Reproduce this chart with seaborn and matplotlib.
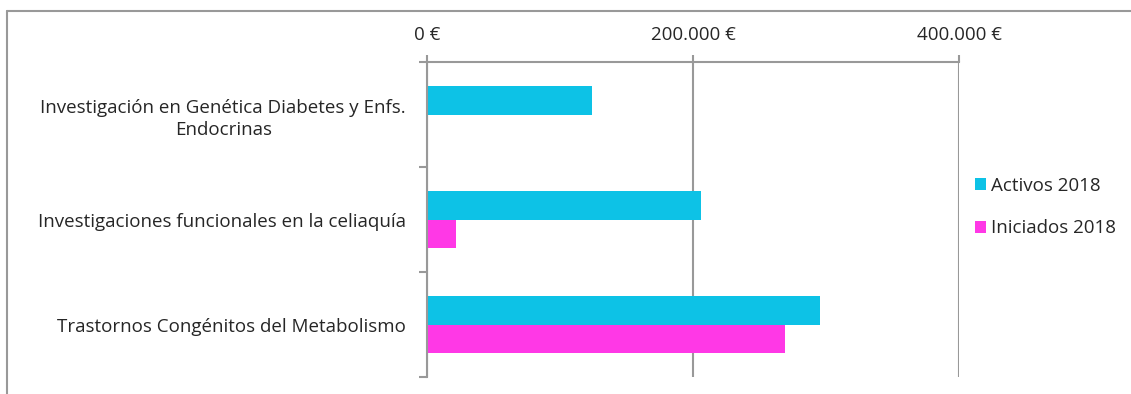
import pandas as pd
import matplotlib.pyplot as plt
import seaborn as sns
from matplotlib.lines import Line2D
from matplotlib.ticker import FuncFormatter, FixedLocator

# Data
lineas = ['Investigación en Genética Diabetes y Enfs.\nEndocrinas',
          'Investigaciones funcionales en la celiaquía',
          'Trastornos Congénitos del Metabolismo']
activos_2018 = [124000, 206000, 295500]
iniciados_2018 = [0, 22000, 269000]
series = ['Activos 2018', 'Iniciados 2018']
colores = ['#0DC2E6', '#FF38E6']

df = pd.DataFrame({
    'linea': lineas * 2,
    'importe': activos_2018 + iniciados_2018,
    'serie': [series[0]] * 3 + [series[1]] * 3,
})

sns.set_style('white')
plt.rcParams['font.family'] = ['Open Sans', 'DejaVu Sans']
fs = 13.5

fig = plt.figure(figsize=(11.31, 3.94), dpi=100)
ax = fig.add_axes([0.3775, 0.043, 0.4705, 0.7995])

sns.barplot(data=df, y='linea', x='importe', hue='serie', orient='h',
            palette=colores, width=0.55, linewidth=0, saturation=1, ax=ax)

ax.set_xlim(0, 400000)
ax.set_ylim(2.5, -0.5)
ax.xaxis.tick_top()
ax.xaxis.set_major_locator(FixedLocator([0, 200000, 400000]))
ax.xaxis.set_major_formatter(FuncFormatter(lambda v, p: f'{int(v):,} €'.replace(',', '.')))
ax.set_xlabel('')
ax.set_ylabel('')

# gridlines
ax.grid(axis='x', color='#999999', linewidth=1.5)
ax.set_axisbelow(True)

# category separators as y ticks
ax.yaxis.set_minor_locator(FixedLocator([-0.5, 0.5, 1.5, 2.5]))
ax.tick_params(axis='y', which='major', length=0, labelsize=fs, pad=15)
ax.tick_params(axis='y', which='minor', length=6, width=1.5, color='#999999', left=True)
ax.tick_params(axis='x', which='major', length=5, width=1.5, color='#999999',
               labelsize=fs, pad=8, top=True)
for lab in ax.get_yticklabels():
    lab.set_multialignment('center')
    lab.set_linespacing(1.35)

for s in ['right', 'bottom']:
    ax.spines[s].set_visible(False)
for s in ['left', 'top']:
    ax.spines[s].set_color('#999999')
    ax.spines[s].set_linewidth(1.5)

ax.legend(loc='center left', bbox_to_anchor=(0.847, 0.474), bbox_transform=fig.transFigure,
          frameon=False, fontsize=fs, handlelength=0.6, handleheight=0.6,
          handletextpad=0.25, labelspacing=1.3)

# outer chart border (top and left only visible)
fig.add_artist(Line2D([0.006, 1], [0.973, 0.973], color='#999999', linewidth=1.5))
fig.add_artist(Line2D([0.0065, 0.0065], [0, 0.973], color='#999999', linewidth=1.5))

fig.savefig('out.png', dpi=100)
